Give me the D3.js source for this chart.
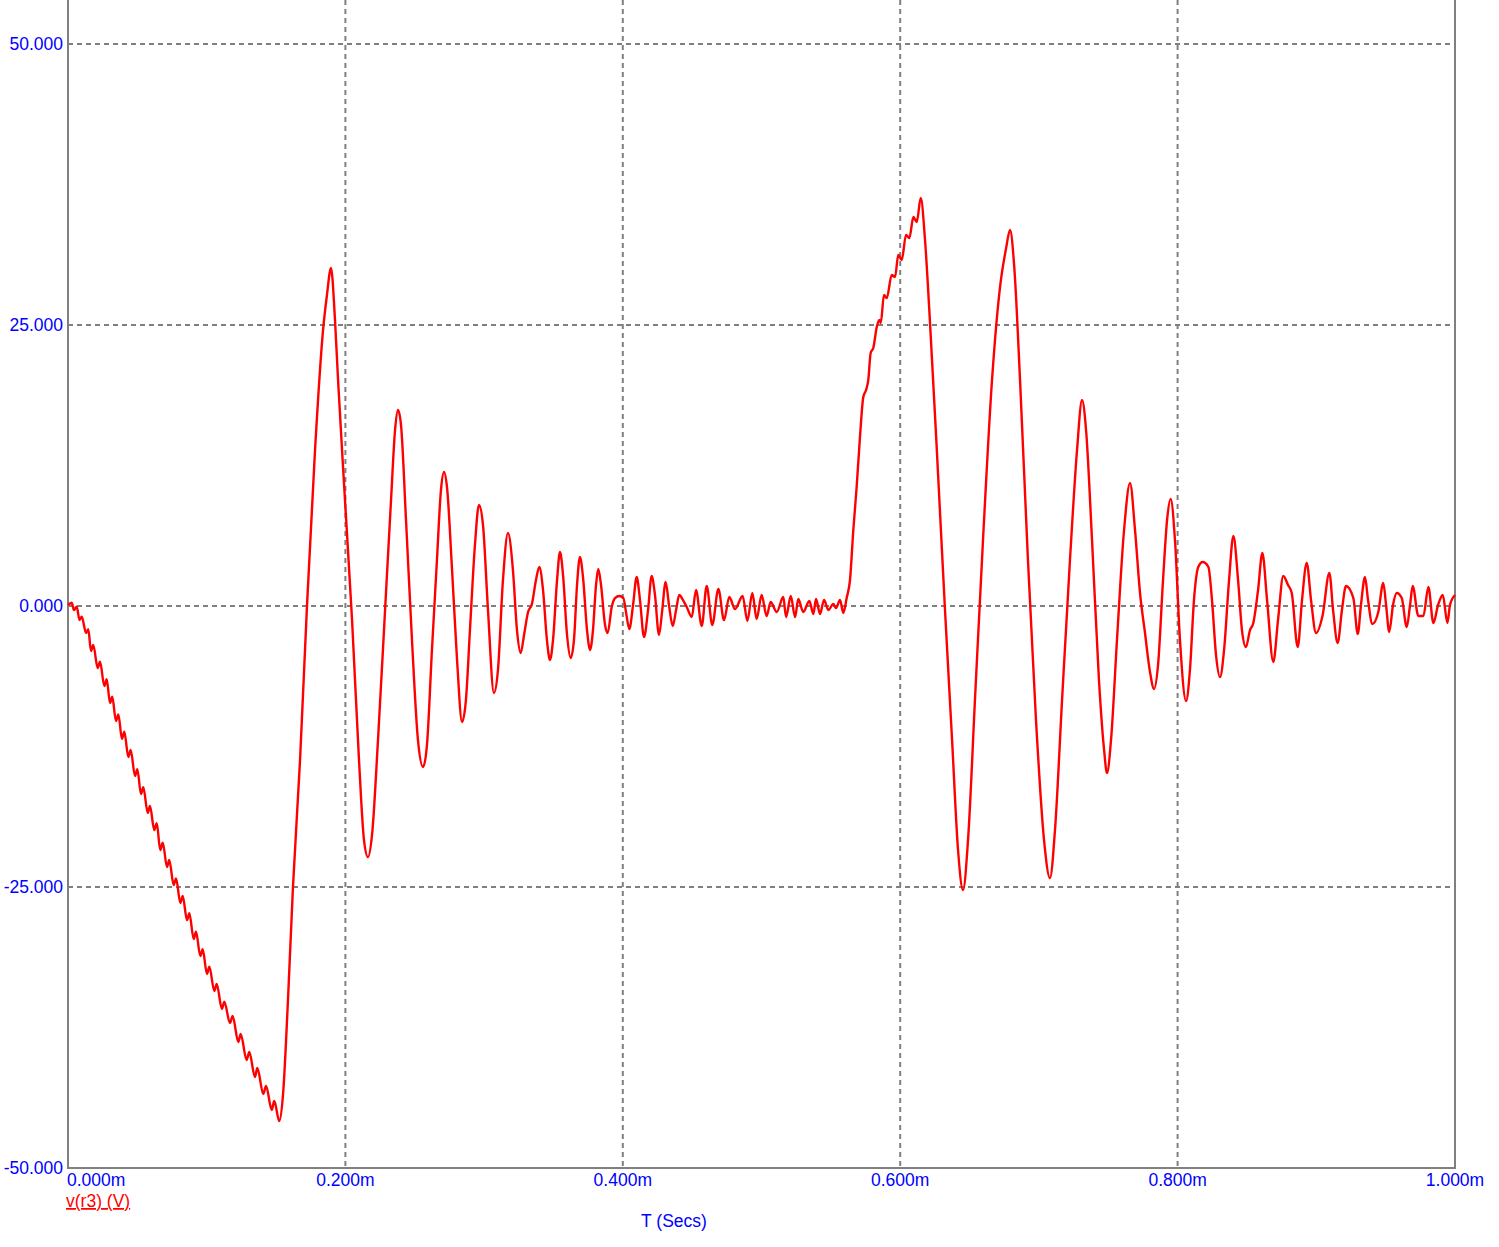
<!DOCTYPE html>
<html>
<head>
<meta charset="utf-8">
<script src="https://cdn.jsdelivr.net/npm/d3@7"></script>
<style>
  html, body { margin: 0; padding: 0; background: #ffffff; }
  svg { display: block; }
</style>
</head>
<body>
<div id="chart"></div>
<script>
// ---- data (time in µs, voltage in V) ----
const timeUs = [
  0, 2.7, 4.3, 6.3, 8.3, 9.9, 13.0, 14.6, 16.6, 18.2, 21.4, 23.1, 26.2, 27.9, 30.3, 31.9, 34.6, 36.3, 38.9, 40.6,
  43.5, 45.2, 48.3, 50.0, 52.6, 54.3, 57.5, 59.1, 62.2, 64.0, 66.5, 68.3, 71.4, 73.0, 76.2, 77.9, 81.0, 82.7, 85.8, 87.5,
  90.6, 92.3, 95.4, 97.1, 100.2, 101.9, 105.5, 107.2, 111.0, 112.7, 116.8, 118.7, 122.8, 124.5, 128.8, 130.7, 134.8, 136.5, 140.8, 142.8,
  146.9, 148.7, 152.3,
  155.0, 158.6, 162.2, 167.3, 172.3, 178.1, 183.9, 186.7, 189.6, 192.5, 194.7, 199.7, 204.8, 209.8, 213.4, 216.3, 219.2, 223.5,
  228.6, 232.9, 235.8, 237.9, 240.1, 243.7, 248.0, 252.3, 256.0, 258.8, 262.4, 266.0, 268.9, 271.1, 273.3, 276.9, 280.5, 284.1,
  286.9, 289.8, 293.4, 296.3, 299.2, 302.8, 307.1, 310.0, 313.6, 317.2, 320.8, 323.7, 326.4, 328.8, 331.7, 334.5, 337.4, 339.8,
  342.5, 345.3, 347.5, 349.7, 352.6, 354.7, 356.9, 359.8, 362.4, 364.8, 367.0, 369.1, 371.3, 374.2, 376.4, 378.5, 380.7, 382.3,
  384.3, 387.2, 389.1, 392.0, 394.4, 397.5, 400.4, 402.3, 404.7, 407.4, 410.0, 412.4, 415.3, 418.2, 420.8, 423.2, 426.1, 428.3,
  430.9, 433.3, 436.0, 438.4, 440.7, 443.4, 446.1, 449.7, 452.8, 456.9, 460.5, 464.5, 468.9, 473.0, 476.8, 480.9, 486.4, 489.8,
  493.4, 496.5, 500.1, 503.7, 506.6, 511.0, 515.7, 517.7, 521.1, 524.2, 526.5, 530.1, 534.5, 537.4, 539.3, 542.2, 545.1, 548.2,
  551.8, 553.7, 556.6, 559.0, 561.4, 563.8, 566.2, 568.6, 571.0, 573.4, 575.4, 577.0, 578.7, 580.6, 583.1, 584.9, 586.0, 588.3,
  590.3, 593.9, 596.3, 598.6, 601.1, 604.2, 606.6, 609.5, 611.9, 614.8, 617.9, 621.5, 626.3, 632.3, 637.4, 641.7, 645.3, 648.9,
  653.9, 659.7, 666.2, 672.0, 676.3, 679.2, 682.1, 686.4, 692.1, 697.9, 703.7, 708.0, 711.6, 716.7, 722.4, 727.5, 731.1, 734.0,
  738.3, 743.3, 747.0, 749.1, 752.0, 756.3, 761.4, 765.7, 769.3, 772.9, 776.5, 780.1, 783.0, 785.9, 789.5, 792.4, 795.0, 798.1,
  801.7, 806.1, 808.9, 811.8, 814.9, 818.1, 822.2, 824.8, 827.7, 830.6, 833.5, 837.1, 840.2, 843.6, 846.4, 849.3, 852.2, 854.6,
  858.0, 861.1, 864.5, 869.0, 872.4, 876.2, 879.6, 882.3, 886.6, 889.7, 893.1, 896.2, 899.8, 904.6, 909.4, 912.1, 915.4, 918.5,
  921.4, 926.7, 929.9, 932.2, 935.1, 937.3, 940.4, 944.7, 948.3, 950.3, 952.6, 955.3, 958.0, 961.6, 965.2, 967.6, 969.5, 973.6,
  977.2, 980.8, 984.4, 987.8, 991.2, 994.5, 996.4, 1000.0
];
const volts = [
  0.09, 0.29, -0.36, -0.06, -1.25, -0.95, -2.40, -2.07, -4.00, -3.47, -5.52, -4.96, -7.12, -6.52, -8.63, -8.07, -10.23, -9.64, -11.83, -11.18,
  -13.43, -12.81, -15.12, -14.53, -16.73, -16.13, -18.42, -17.79, -19.93, -19.33, -21.71, -21.06, -23.22, -22.60, -24.82, -24.23, -26.42, -25.80, -27.94, -27.34,
  -29.63, -28.98, -31.14, -30.54, -32.74, -32.09, -34.25, -33.63, -35.85, -35.21, -37.10, -36.48, -38.79, -38.08, -40.39, -39.68, -41.90, -41.10, -43.42, -42.71,
  -44.84, -44.04, -45.82,
  -43.51, -35.05, -25.00, -13.70, 0.00, 13.88, 24.56, 27.67, 30.07, 25.45, 20.11, 9.43, -1.25, -13.70, -20.82, -22.33, -20.37, -11.92,
  -0.36, 9.43, 15.66, 17.44, 16.10, 7.65, -3.02, -11.92, -14.32, -12.37, -3.91, 4.09, 10.32, 11.92, 10.50, 3.20, -4.80, -10.32,
  -8.36, -2.14, 5.43, 8.99, 7.21, -0.36, -7.74, -5.69, 2.31, 6.49, 3.20, -2.14, -4.18, -2.58, -0.53, 0.18, 2.31, 3.47,
  1.42, -3.02, -4.80, -3.02, 2.31, 4.80, 2.76, -2.58, -4.63, -3.02, 1.87, 4.36, 2.58, -2.14, -3.91, -2.14, 1.87, 3.29,
  1.87, -1.69, -2.40, -0.09, 0.71, 0.89, 0.71, -0.53, -2.05, 0.09, 2.58, 0.53, -2.76, -0.36, 2.67, 0.98, -2.58, -0.53,
  2.14, 0.09, -1.78, -0.36, 0.98, 0.53, -0.09, -0.98, 1.42, -1.78, 1.78, -1.69, 1.51, -1.25, 0.80, -0.27, 0.89, -1.33,
  1.16, -1.16, 0.98, -0.89, 0.36, -0.53, 0.80, -0.98, 0.89, -0.98, 0.62, -0.53, 0.44, -0.71, 0.62, -0.71, 0.53, -0.36,
  0.18, -0.18, 0.53, -0.62, 0.71, 2.31, 6.76, 10.59, 15.04, 18.59, 19.22, 20.11, 22.51, 22.95, 24.82, 25.45, 25.18, 27.67,
  27.40, 29.45, 29.27, 31.23, 30.78, 33.01, 32.74, 34.61, 34.16, 36.30, 32.56, 25.18, 14.15, -0.36, -11.92, -21.71, -25.27, -20.82,
  -8.36, 5.87, 20.11, 28.40, 31.80, 33.45, 30.40, 20.11, 4.09, -10.14, -20.82, -24.20, -19.93, -8.36, 4.09, 13.88, 18.33, 15.66,
  5.87, -6.58, -12.81, -14.86, -11.92, -3.02, 6.76, 10.94, 6.76, 1.16, -2.40, -5.87, -7.38, -5.25, 2.31, 7.65, 9.52, 5.87,
  -3.02, -8.45, -5.69, 0.53, 3.47, 3.91, 3.47, 0.53, -4.36, -6.32, -3.91, 2.31, 6.23, 2.31, -2.14, -3.65, -2.14, -1.51,
  1.42, 4.72, 0.53, -4.98, -1.25, 2.67, 1.87, 1.16, -3.65, 0.53, 3.83, 0.53, -2.40, -0.80, 2.94, -0.36, -3.29, -0.36,
  1.78, 0.71, -2.49, 0.09, 2.58, 0.53, -1.60, -0.53, 2.05, 0.09, -2.31, 0.09, 1.16, 0.71, -1.87, 0.09, 1.78, -0.89,
  -0.89, 1.69, -1.51, 0.09, 0.98, -1.51, 0.09, 0.98
];
const xTickValues = [0, 0.2, 0.4, 0.6, 0.8, 1.0];          // ms
const xTickLabels = ["0.000m", "0.200m", "0.400m", "0.600m", "0.800m", "1.000m"];
const yTickValues = [50, 25, 0, -25, -50];
const yTickLabels = ["50.000", "25.000", "0.000", "-25.000", "-50.000"];
const traceLabel = "v(r3) (V)";
const axisTitle = "T (Secs)";

// ---- layout ----
const W = 1499, H = 1247;
const plotL = 68, plotR = 1455, plotT = 44, plotB = 1168;
const blue = "#0000ff", red = "#ff0000", grey = "#808080";
const font = "'Liberation Sans', Arial, sans-serif";
const fs = 17.5;

const x = d3.scaleLinear().domain([0, 1]).range([plotL, plotR]);
const y = d3.scaleLinear().domain([-50, 50]).range([plotB, plotT]);

const svg = d3.select("#chart").append("svg")
  .attr("width", W).attr("height", H)
  .style("background", "#fff");

// grid lines
const grid = svg.append("g");
grid.selectAll("line.hg")
  .data(yTickValues.filter(v => v !== -50))
  .join("line")
  .attr("class", "hg")
  .attr("x1", plotL).attr("x2", plotR)
  .attr("y1", d => y(d)).attr("y2", d => y(d))
  .attr("stroke", grey).attr("stroke-width", 2)
  .attr("stroke-dasharray", "5,4");
grid.selectAll("line.vg")
  .data(xTickValues.filter(v => v > 0 && v < 1))
  .join("line")
  .attr("class", "vg")
  .attr("x1", d => x(d)).attr("x2", d => x(d))
  .attr("y1", 0).attr("y2", plotB)
  .attr("stroke", grey).attr("stroke-width", 2)
  .attr("stroke-dasharray", "5,4");

// frame
svg.append("path")
  .attr("d", `M${plotL},0 L${plotL},${plotB} L${plotR},${plotB} L${plotR},0`)
  .attr("fill", "none").attr("stroke", grey).attr("stroke-width", 2);

// y labels
svg.append("g").selectAll("text")
  .data(yTickValues)
  .join("text")
  .attr("x", plotL - 5)
  .attr("y", d => y(d) + 6)
  .attr("text-anchor", "end")
  .attr("font-family", font).attr("font-size", fs)
  .attr("fill", blue)
  .text((d, i) => yTickLabels[i]);

// x labels
svg.append("g").selectAll("text")
  .data(xTickValues)
  .join("text")
  .attr("x", (d, i) => i === 0 ? plotL - 1 : x(d))
  .attr("y", plotB + 18)
  .attr("text-anchor", (d, i) => i === 0 ? "start" : "middle")
  .attr("font-family", font).attr("font-size", fs)
  .attr("fill", blue)
  .text((d, i) => xTickLabels[i]);

// trace label
svg.append("text")
  .attr("x", plotL - 2).attr("y", plotB + 39)
  .attr("font-family", font).attr("font-size", fs)
  .attr("fill", red)
  .attr("text-decoration", "underline")
  .text(traceLabel);

// axis title
svg.append("text")
  .attr("x", 674).attr("y", plotB + 59)
  .attr("text-anchor", "middle")
  .attr("font-family", font).attr("font-size", fs)
  .attr("fill", blue)
  .text(axisTitle);

// trace
const n = Math.min(timeUs.length, volts.length);
const pts = d3.range(n).map(i => ({ t: timeUs[i] / 1000, v: volts[i] }));
const line = d3.line()
  .x(d => x(d.t))
  .y(d => y(d.v))
  .curve(d3.curveMonotoneX);
svg.append("path")
  .datum(pts)
  .attr("d", line)
  .attr("fill", "none")
  .attr("stroke", red)
  .attr("stroke-width", 2.4)
  .attr("stroke-linejoin", "round");
</script>
</body>
</html>
